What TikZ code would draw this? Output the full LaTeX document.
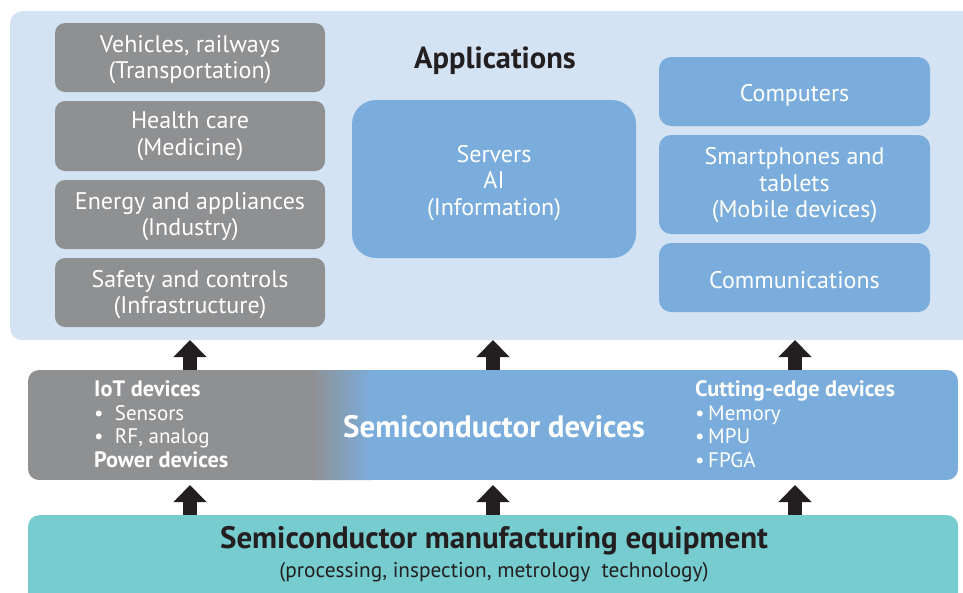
\documentclass[tikz,border=0pt]{standalone}
\usepackage{fontspec}
\setmainfont{PT Sans}
\usetikzlibrary{arrows.meta}
\definecolor{appbg}{HTML}{D4E3F3}
\definecolor{graybox}{HTML}{8F9092}
\definecolor{bluebox}{HTML}{7AADDC}
\definecolor{tealbox}{HTML}{76CCCE}
\definecolor{darktxt}{HTML}{231F20}
\newcommand{\boldline}[1]{{\fontsize{22.3}{23.5}\selectfont\bfseries #1}}
\tikzset{
  graycard/.style={fill=graybox, draw=none, rounded corners=10, inner sep=0},
  bluecard/.style={fill=bluebox, draw=none, rounded corners=12, inner sep=0},
  cardtxt/.style={text=white, align=center, font=\fontsize{24}{26.5}\selectfont},
  blockarrow/.style={draw=darktxt, line width=14pt, line cap=butt,
    -{Triangle[width=32pt,length=17pt]}},
  listtxt/.style={text=white, align=left, anchor=north west, inner sep=0,
    font=\fontsize{21}{23.5}\selectfont},
}
\begin{document}
\begin{tikzpicture}[x=1pt,y=-1pt]
\useasboundingbox (0,0) rectangle (963,592);
\fill[white] (0,0) rectangle (963,592);
% Applications background
\node[fill=appbg, rounded corners=12, minimum width=975, minimum height=329, inner sep=0, anchor=north west] (apps) at (10,11) {};
\node[font=\bfseries\fontsize{30.5}{34}\selectfont, text=darktxt] (apptitle) at (495,60.5) {Applications};
% left gray cards
\node[graycard, minimum width=270, minimum height=69] (trans) at (190,57.5) {};
\node[graycard, minimum width=270, minimum height=70] (med) at (190,136) {};
\node[graycard, minimum width=270, minimum height=69] (ind) at (190,214.5) {};
\node[graycard, minimum width=270, minimum height=69] (infra) at (190,292.5) {};
\node[cardtxt] (trans-t) at ([yshift=-2pt]trans.center) {Vehicles, railways\\(Transportation)};
\node[cardtxt] (med-t) at (med.center) {Health care\\(Medicine)};
\node[cardtxt] (ind-t) at ([yshift=-2pt]ind.center) {Energy and appliances\\(Industry)};
\node[cardtxt] (infra-t) at ([yshift=-2pt]infra.center) {Safety and controls\\(Infrastructure)};
% center
\node[bluecard, rounded corners=24, minimum width=284, minimum height=158] (info) at (494,179) {};
\node[cardtxt] (info-t) at ([yshift=-4pt]info.center) {Servers\\AI\\(Information)};
% right
\node[bluecard, minimum width=271, minimum height=69] (comp) at (794.5,91.5) {};
\node[bluecard, minimum width=271, minimum height=99] (mob) at (794.5,184.5) {};
\node[bluecard, minimum width=271, minimum height=69] (comm) at (794.5,277.5) {};
\node[cardtxt] (comp-t) at ([yshift=-3.5pt]comp.center) {Computers};
\node[cardtxt] (mob-t) at ([yshift=-1pt]mob.center) {Smartphones and\\tablets\\(Mobile devices)};
\node[cardtxt] (comm-t) at ([yshift=-3pt]comm.center) {Communications};
% semiconductor devices bar
\begin{scope}
\clip[rounded corners=11] (28,370) rectangle (958,480);
\fill[graybox] (28,370) rectangle (312,480);
\shade[left color=graybox, right color=bluebox] (311,370) rectangle (372,480);
\fill[bluebox] (371,370) rectangle (958,480);
\end{scope}
\node[minimum width=930, minimum height=110, inner sep=0] (dev) at (493,425) {};
\node[text=white, font=\bfseries\fontsize{31}{34}\selectfont] (devtitle) at (494,427) {Semiconductor devices};
\node[listtxt] (iot) at (94,380.5) {\boldline{IoT devices}\\\textbullet\ \ Sensors\\\textbullet\ \ RF, analog\\\boldline{Power devices}};
\node[listtxt] (cut) at (695,380.5) {\boldline{Cutting-edge devices}\\\textbullet\,Memory\\\textbullet\,MPU\\\textbullet\,FPGA};
% manufacturing equipment
\node[fill=tealbox, rounded corners=11, minimum width=930, minimum height=95, inner sep=0, anchor=north west] (equip) at (28,515) {};
\node[text=darktxt, font=\bfseries\fontsize{31}{34}\selectfont] (eqtitle) at (494,541) {Semiconductor manufacturing equipment};
\node[text=darktxt, font=\fontsize{21.3}{24}\selectfont] (eqsub) at (494,572) {(processing, inspection, metrology\ \ technology)};
% arrows
\foreach \ax/\nm in {190/a, 493/b, 795/c}{
  \coordinate (up\nm s) at (\ax,370);
  \coordinate (up\nm e) at (\ax,340);
  \coordinate (lo\nm s) at (\ax,515);
  \coordinate (lo\nm e) at (\ax,485);
}
\draw[blockarrow] (upas) -- (upae);
\draw[blockarrow] (upbs) -- (upbe);
\draw[blockarrow] (upcs) -- (upce);
\draw[blockarrow] (loas) -- (loae);
\draw[blockarrow] (lobs) -- (lobe);
\draw[blockarrow] (locs) -- (loce);
\end{tikzpicture}
\end{document}
